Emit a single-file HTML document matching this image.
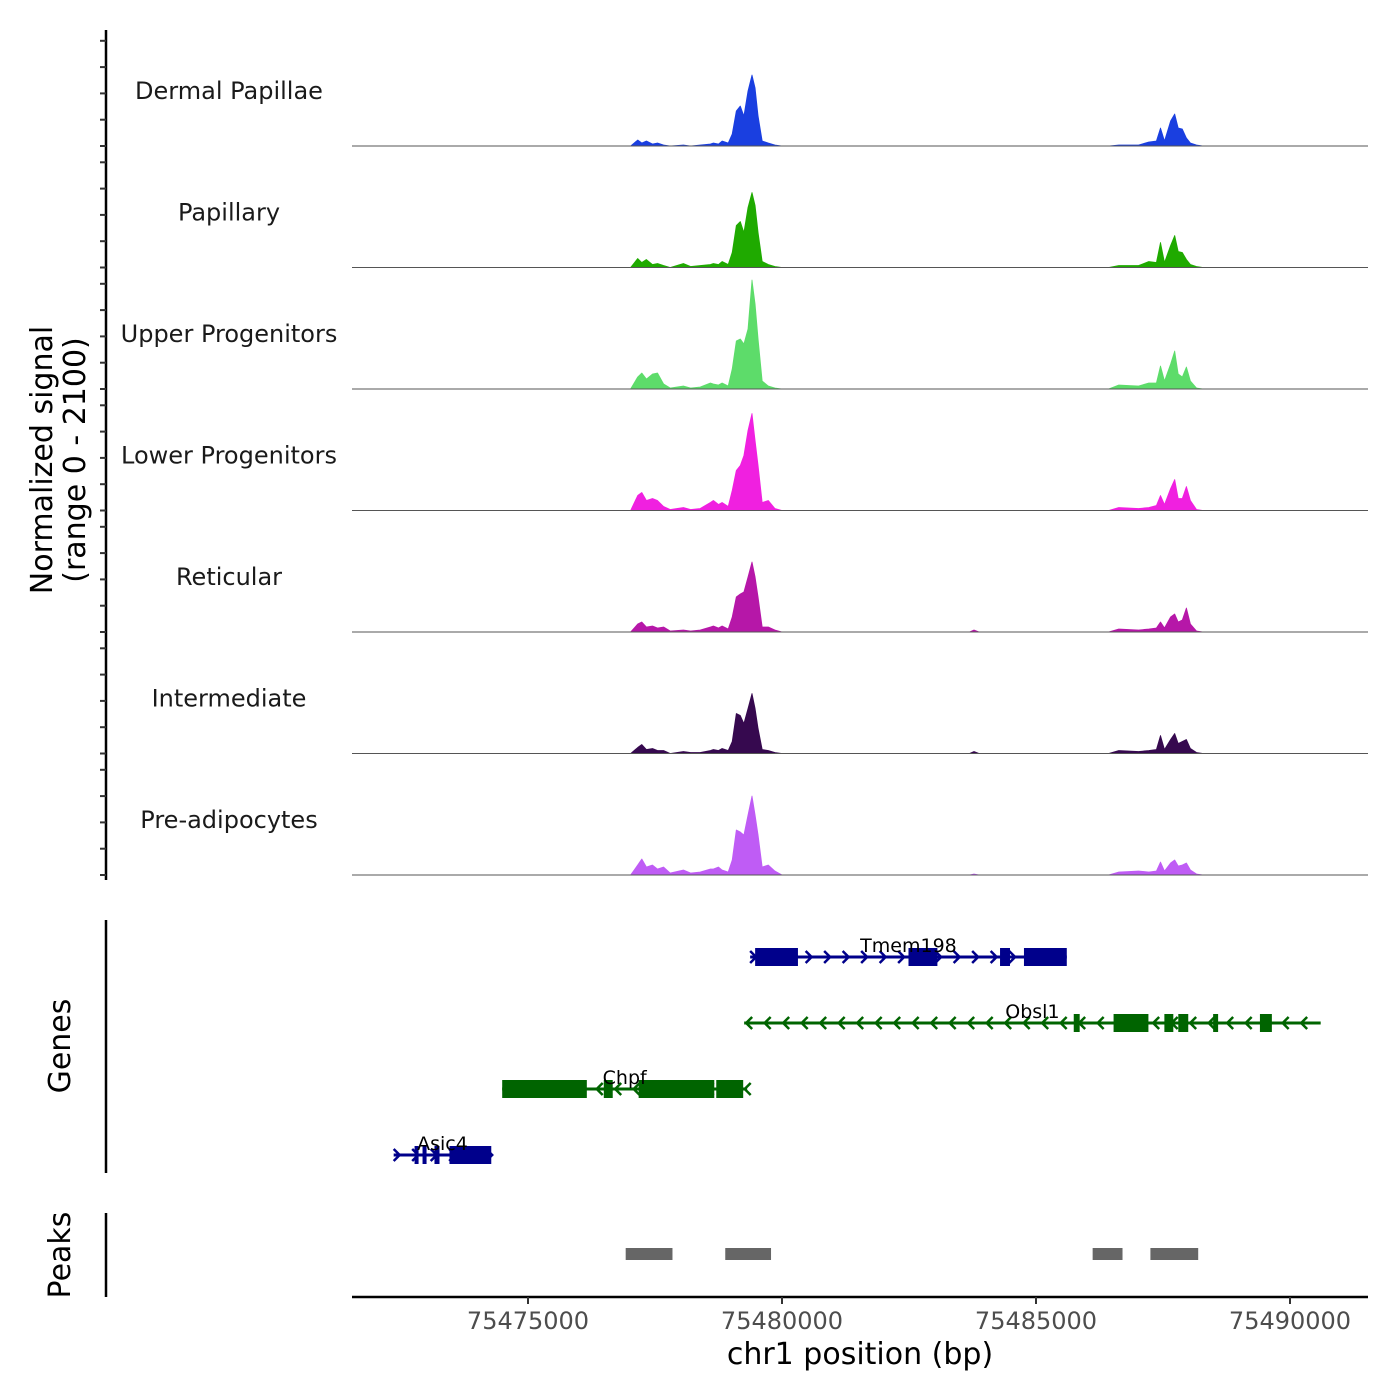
<!DOCTYPE html>
<html><head><meta charset="utf-8"><style>
html,body{margin:0;padding:0;background:#fff;}
svg{display:block;font-family:"DejaVu Sans","Liberation Sans",sans-serif;}
</style></head><body>
<svg id="chart" width="1400" height="1400" viewBox="0 0 1400 1400"></svg>
<script>
const trackNames=["Dermal Papillae","Papillary","Upper Progenitors","Lower Progenitors","Reticular","Intermediate","Pre-adipocytes"];
const trackColors=["#1a3fe0","#1faa00","#5ddc6a","#f020e0","#b617a8","#36094f","#bf5cf5"];
const positions=[75471570,75477020,75477160,75477240,75477330,75477450,75477550,75477670,75477800,
75478060,75478200,75478390,75478590,75478650,75478750,75478820,75478940,
75479020,75479100,75479180,75479250,75479330,75479410,75479470,75479530,75479610,75479730,75479860,75480000,75480160,
75483690,75483780,75483880,
75486430,75486630,75487020,75487220,75487370,75487450,75487530,75487650,75487730,75487800,75487880,75487960,75488040,75488160,75488290,75491490];
const sigDermal=[0,0,6,3,5,2,3,1,0, 1,0,1,2,3,2,5,3, 12,35,40,30,55,71,58,30,5,3,1,0,0, 0,0,0, 0,1,1,4,5,18,5,25,32,18,17,8,3,1,0,0];
const sigPapillary=[0,0,9,5,8,3,4,2,0, 4,1,2,3,4,3,6,3, 15,42,46,35,60,75,62,35,6,3,1,0,0, 0,0,0, 0,2,2,6,5,25,5,22,32,16,15,8,3,1,0,0];
const sigUpper=[0,0,12,16,10,15,16,5,1, 3,1,2,6,5,4,6,3, 20,48,50,45,60,109,85,50,8,3,1,0,0, 0,0,0, 0,4,3,6,6,23,8,25,38,15,12,22,8,1,0,0];
const sigLower=[0,0,15,18,10,12,10,4,1, 3,1,2,8,10,6,8,4, 20,40,45,55,80,97,70,45,8,10,2,0,0, 0,0,0, 0,3,2,3,5,15,6,22,31,12,12,24,10,1,0,0];
const sigReticular=[0,0,8,10,5,6,4,5,1, 2,1,2,5,6,4,6,3, 15,35,38,40,55,70,55,35,5,5,2,0,0, 0,2,0, 0,3,2,3,4,10,4,15,18,10,12,24,8,1,0,0];
const sigIntermediate=[0,0,6,9,4,5,3,3,0, 2,1,1,3,4,3,5,3, 12,40,38,30,45,60,45,25,4,3,1,0,0, 0,2,0, 0,3,2,3,4,18,4,14,20,10,12,14,5,1,0,0];
const sigPreadipo=[0,0,10,16,8,10,6,8,2, 5,2,3,6,6,8,5,3, 15,45,43,40,60,79,60,40,8,10,4,0,0, 0,1,0, 0,3,4,3,4,13,4,12,15,9,10,12,5,1,0,0];
const signals=[sigDermal,sigPapillary,sigUpper,sigLower,sigReticular,sigIntermediate,sigPreadipo];
const xTicks=[75475000,75480000,75485000,75490000];
const geneNames=["Tmem198","Obsl1","Chpf","Asic4"];
const geneStrands=["+","-","-","+"];
const geneColors=["#00008b","#006400","#006400","#00008b"];
const geneStarts=[75479373,75479255,75474492,75472356];
const geneEnds=[75485606,75490604,75479314,75474277];
const geneExons=[
 [[75479471,75480314],[75482490,75483059],[75484292,75484488],[75484763,75485606]],
 [[75485743,75485860],[75486527,75487213],[75487527,75487703],[75487801,75487997],[75488487,75488585],[75489408,75489643]],
 [[75474492,75476158],[75476492,75476668],[75477178,75478667],[75478706,75479236]],
 [[75472767,75472846],[75472924,75473003],[75473159,75473258],[75473454,75474277]]];
const peakStarts=[75476923,75478883,75486115,75487252];
const peakEnds=[75477844,75479784,75486703,75488193];

const NS="http://www.w3.org/2000/svg";
const svg=document.getElementById("chart");
function el(tag,attrs,parent){const e=document.createElementNS(NS,tag);for(const k in attrs)e.setAttribute(k,attrs[k]);(parent||svg).appendChild(e);return e;}
function x(bp){return 782+(bp-75480000)*0.0508;}
const trackH=121.5, firstBase=146;
function y(v,k){return firstBase+k*trackH-v;}

let a=el("line",{x1:106,y1:30,x2:106,y2:880,stroke:"#000","stroke-width":2.5});


for(let k=0;k<7;k++){for(let j=0;j<5;j++){
 const ty=firstBase+k*trackH-26.3*j; if(ty<32)continue;
 const t=el("line",{x1:100,y1:ty,x2:106,y2:ty,stroke:"#333","stroke-width":2});
 
 
}}
let yt=el("text",{x:0,y:0,"font-size":30,"text-anchor":"middle",fill:"#000",transform:"translate(52,460) rotate(-90)"});


el("tspan",{x:0,dy:0},yt).textContent="Normalized signal";
el("tspan",{x:0,dy:33},yt).textContent="(range 0 - 2100)";

for(let k=0;k<7;k++){
 const base=firstBase+k*trackH;
 let d="M"+x(positions[0])+","+base;
 for(let i=0;i<positions.length;i++)d+=" L"+x(positions[i]).toFixed(1)+","+y(signals[k][i],k).toFixed(1);
 d+=" L"+x(positions[positions.length-1])+","+base+" Z";
 const p=el("path",{d:d,fill:trackColors[k],stroke:trackColors[k],"stroke-width":0.8,"stroke-linejoin":"round"});
 
 
 const bl=el("line",{x1:352,y1:base,x2:1368,y2:base,stroke:"#555","stroke-width":1});
 
 
 const lt=el("text",{x:229,y:base-47,"font-size":24,"text-anchor":"middle",fill:"#1a1a1a"});
 lt.textContent=trackNames[k];
 
 
}

a=el("line",{x1:106,y1:920,x2:106,y2:1173,stroke:"#000","stroke-width":2.5});


let gt=el("text",{x:0,y:0,"font-size":30,"text-anchor":"middle",transform:"translate(70,1046) rotate(-90)"});
gt.textContent="Genes";


const geneY=[957,1023,1089,1155];
for(let g=0;g<4;g++){
 const gy=geneY[g],c=geneColors[g],x0=x(geneStarts[g]),x1=x(geneEnds[g]);
 const grp=el("g",{});
 
 
 el("line",{x1:x0,y1:gy,x2:x1,y2:gy,stroke:c,"stroke-width":3},grp);
 for(let ax=x0+4;ax<x1;ax+=18.5){
  const dir=geneStrands[g]=="+"?1:-1;
  el("polyline",{points:(ax-4*dir)+","+(gy-6)+" "+(ax+2*dir)+","+gy+" "+(ax-4*dir)+","+(gy+6),fill:"none",stroke:c,"stroke-width":2.5},grp);
 }
 for(const ex of geneExons[g]){
  el("rect",{x:x(ex[0]),y:gy-9,width:Math.max(4,x(ex[1])-x(ex[0])),height:18,fill:c},grp);
 }
 const lbl=el("text",{x:(x0+x1)/2,y:gy-5,"font-size":19,"text-anchor":"middle",fill:"#000"});
 lbl.textContent=geneNames[g];
 
 
}

a=el("line",{x1:106,y1:1213,x2:106,y2:1297,stroke:"#000","stroke-width":2.5});


let pt=el("text",{x:0,y:0,"font-size":30,"text-anchor":"middle",transform:"translate(70,1255) rotate(-90)"});
pt.textContent="Peaks";


for(let i=0;i<peakStarts.length;i++){
 const r=el("rect",{x:x(peakStarts[i]),y:1248,width:x(peakEnds[i])-x(peakStarts[i]),height:12,fill:"#666"});
 
 
}

a=el("line",{x1:352,y1:1297,x2:1368,y2:1297,stroke:"#000","stroke-width":2.5});


for(const t of xTicks){
 const tl=el("line",{x1:x(t),y1:1297,x2:x(t),y2:1304,stroke:"#333","stroke-width":2});
 
 
 const tx=el("text",{x:x(t),y:1329,"font-size":24,"text-anchor":"middle",fill:"#4d4d4d"});
 tx.textContent=String(t);
 
 
}
const xt=el("text",{x:860,y:1364,"font-size":30,"text-anchor":"middle",fill:"#000"});
xt.textContent="chr1 position (bp)";


</script>
</body></html>
